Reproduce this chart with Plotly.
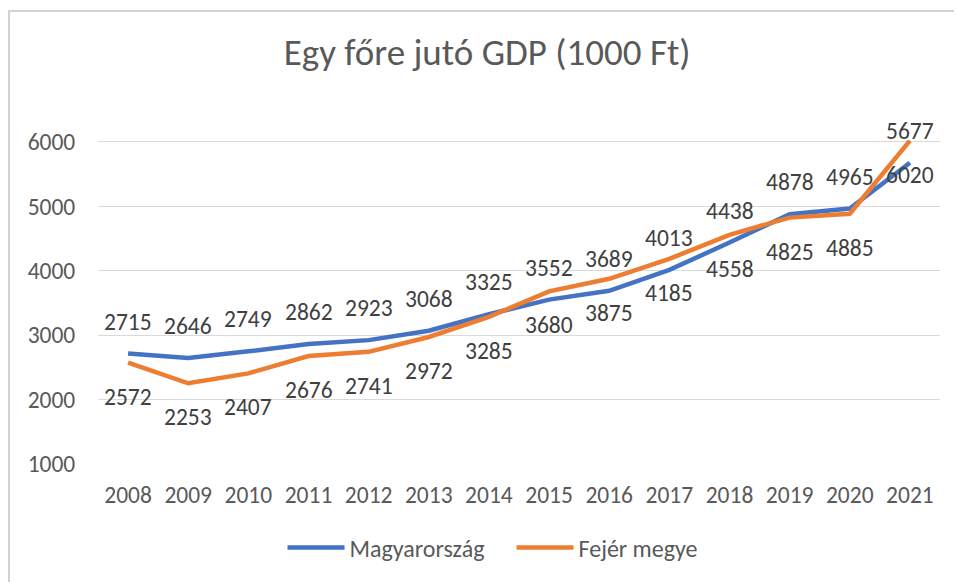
import plotly.graph_objects as go

years = ["2008", "2009", "2010", "2011", "2012", "2013", "2014",
         "2015", "2016", "2017", "2018", "2019", "2020", "2021"]
magyarorszag = [2715, 2646, 2749, 2862, 2923, 3068, 3325,
                3552, 3689, 4013, 4438, 4878, 4965, 5677]
fejer = [2572, 2253, 2407, 2676, 2741, 2972, 3285,
         3680, 3875, 4185, 4558, 4825, 4885, 6020]
series_names = ["Magyarország", "Fejér megye"]
title_text = "Egy főre jutó GDP (1000 Ft)"

FONT = "Carlito, Calibri, Lato, sans-serif"
BLUE = "#4472C4"
ORANGE = "#ED7D31"
LBL = 23.5

fig = go.Figure()
fig.add_trace(go.Scatter(x=years, y=magyarorszag, name=series_names[0], mode="lines",
                         line=dict(color=BLUE, width=4.5)))
fig.add_trace(go.Scatter(x=years, y=fejer, name=series_names[1], mode="lines",
                         line=dict(color=ORANGE, width=4.5)))

annotations = []
for i, v in enumerate(magyarorszag):
    annotations.append(dict(x=i, y=v, xref="x", yref="y", text=str(v), showarrow=False,
                            yshift=32, font=dict(family=FONT, size=LBL, color="#404040")))
for i, v in enumerate(fejer):
    annotations.append(dict(x=i, y=v, xref="x", yref="y", text=str(v), showarrow=False,
                            yshift=-34, font=dict(family=FONT, size=LBL, color="#404040")))

# chart-area frame (top and left edges), in paper units
xl = -89 / 842
xr = 856 / 842
yt = 1 + (140 - 11) / 324
yb = -130 / 324
frame_path = f"M {xl},{yb} L {xl},{yt} L {xr},{yt}"

fig.update_layout(
    width=957, height=582,
    margin=dict(l=98, r=17, t=140, b=118),
    paper_bgcolor="white", plot_bgcolor="white",
    font=dict(family=FONT, size=LBL, color="#595959"),
    title=dict(text=title_text, xref="container", x=0.509, xanchor="center",
               yref="container", y=1 - 52 / 582, yanchor="middle",
               font=dict(family=FONT, size=37, color="#595959")),
    xaxis=dict(type="category", range=[-0.5, 13.5], showgrid=False, zeroline=False,
               showline=False, ticks="outside", ticklen=10, tickcolor="rgba(0,0,0,0)",
               tickfont=dict(family=FONT, size=LBL, color="#595959")),
    yaxis=dict(range=[1000, 6030], tickvals=[1000, 2000, 3000, 4000, 5000, 6000],
               showgrid=True, gridcolor="#D9D9D9", gridwidth=1.3, zeroline=False,
               showline=False, ticks="outside", ticklen=17, tickcolor="rgba(0,0,0,0)",
               tickfont=dict(family=FONT, size=LBL, color="#595959")),
    legend=dict(orientation="h", xref="container", x=0.5345, xanchor="center",
                yref="container", y=1 - 548 / 582, yanchor="middle",
                font=dict(family=FONT, size=24, color="#595959"),
                itemwidth=57, entrywidth=157, entrywidthmode="pixels",
                bgcolor="rgba(0,0,0,0)"),
    annotations=annotations,
    shapes=[
        dict(type="path", xref="paper", yref="paper", layer="above", path=frame_path,
             line=dict(color="#D2D2D2", width=2)),
    ],
)

fig.write_html("out.html", config={"displayModeBar": False},
               post_script="document.body.style.margin='0';")
